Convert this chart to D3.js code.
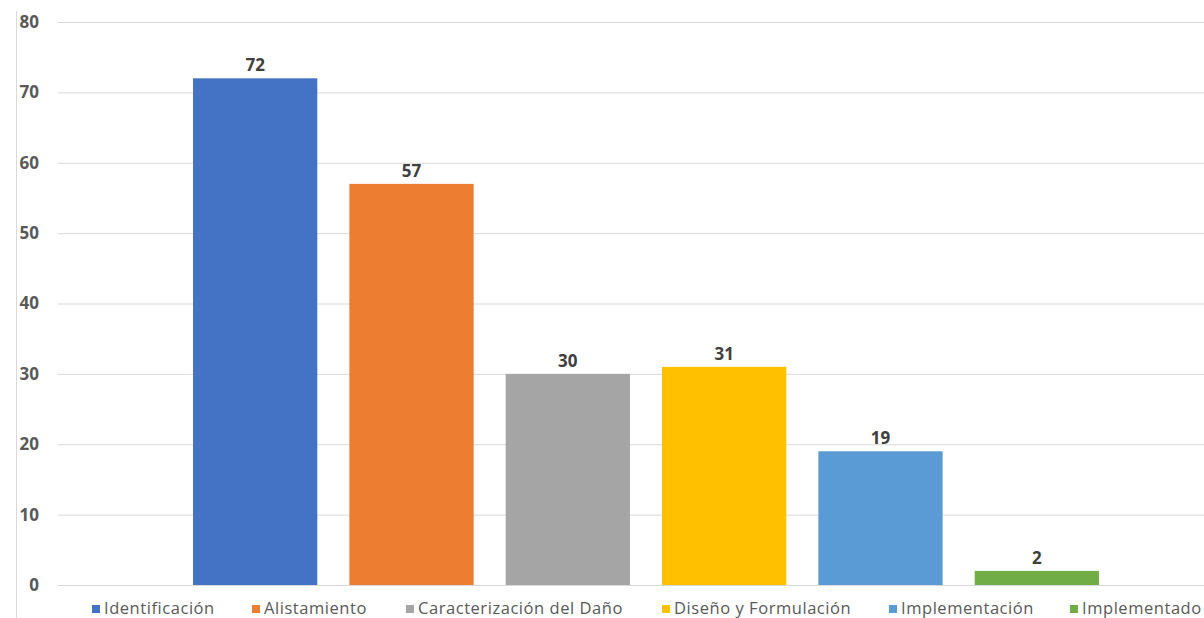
<!DOCTYPE html>
<html><head><meta charset="utf-8">
<script src="https://cdn.jsdelivr.net/npm/d3@7"></script>
<style>body{margin:0;background:#fff}svg{display:block}</style>
</head><body>
<svg id="c" width="1204" height="618"></svg>
<script>
const series = ["Identificación","Alistamiento","Caracterización del Daño","Diseño y Formulación","Implementación","Implementado"];
const values = [72,57,30,31,19,2];
const colors = ["#4472C4","#ED7D31","#A5A5A5","#FFC000","#5B9BD5","#70AD47"];
const yTicks = [0,10,20,30,40,50,60,70,80];

const svg = d3.select("#c");
const y = d3.scaleLinear().domain([0,80]).range([585,22]);
const x = d3.scaleBand().domain(series).range([177,1115]).paddingInner(0.205).paddingOuter(0.1025);

// left frame line
svg.append("line").attr("x1",16.5).attr("x2",16.5).attr("y1",11).attr("y2",618).attr("stroke","#d9d9d9");

// gridlines + ticks
const yAxis = d3.axisLeft(y).tickValues(yTicks).tickSize(-(1204-58)).tickPadding(19);
const g = svg.append("g").attr("transform","translate(58,0)").call(yAxis);
g.select(".domain").remove();
g.selectAll(".tick line").attr("stroke","#d9d9d9").attr("stroke-width",1);
g.selectAll(".tick text").attr("fill","#595959").attr("font-family","Open Sans").attr("font-weight","bold").attr("font-size","17px");

// bars
svg.selectAll("rect.bar").data(series).enter().append("rect").attr("class","bar")
  .attr("x",d=>x(d)).attr("width",x.bandwidth())
  .attr("y",(d,i)=>y(values[i])).attr("height",(d,i)=>y(0)-y(values[i]))
  .attr("fill",(d,i)=>colors[i]);

// data labels
svg.selectAll("text.lbl").data(series).enter().append("text").attr("class","lbl")
  .attr("x",d=>x(d)+x.bandwidth()/2).attr("y",(d,i)=>y(values[i])-7)
  .attr("text-anchor","middle").attr("fill","#404040")
  .attr("font-family","Open Sans").attr("font-weight","bold").attr("font-size","17px")
  .text((d,i)=>values[i]);

// legend
const legX = [92,252,406,662,889,1070];
const lg = svg.append("g");
series.forEach((s,i)=>{
  lg.append("rect").attr("x",legX[i]).attr("y",605).attr("width",8).attr("height",8).attr("fill",colors[i]);
  lg.append("text").attr("x",legX[i]+12).attr("y",614).attr("fill","#595959")
    .attr("font-family","Open Sans").attr("font-size","16.5px").attr("letter-spacing","0.55px").text(s);
});
</script>
</body></html>
